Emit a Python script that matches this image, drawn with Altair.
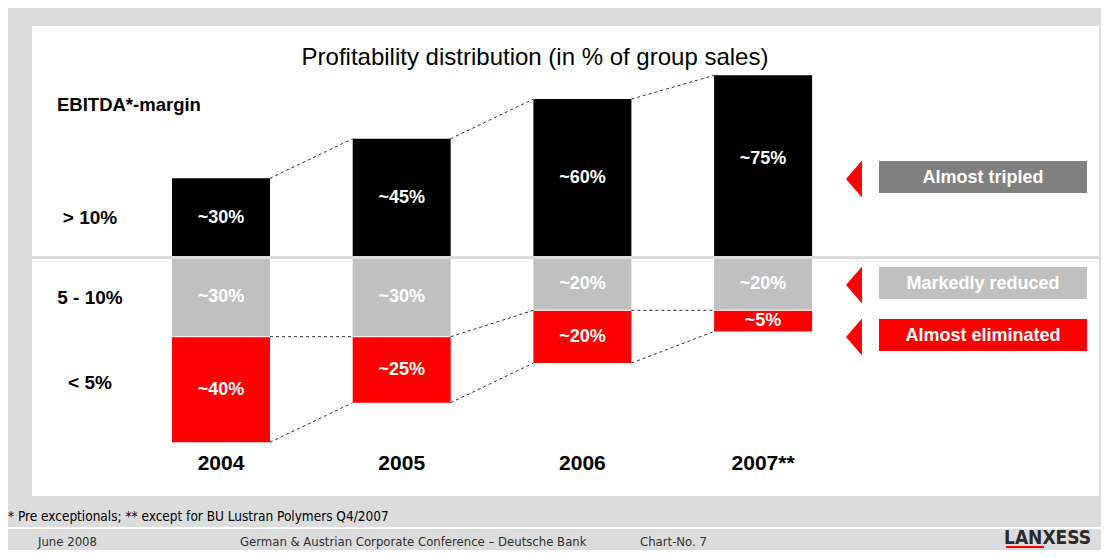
import altair as alt
import pandas as pd

# ---------------- data ----------------
years = ["2004", "2005", "2006", "2007"]
year_labels = ["2004", "2005", "2006", "2007**"]
high_share = [30, 45, 60, 69]      # > 10 % EBITDA margin (bar height as drawn)
mid_share = [30, 30, 20, 20]       # 5 - 10 %
low_share = [40, 25, 20, 8]        # < 5 %
high_text = ["~30%", "~45%", "~60%", "~75%"]
mid_text = ["~30%", "~30%", "~20%", "~20%"]
low_text = ["~40%", "~25%", "~20%", "~5%"]
band_names = ["> 10%", "5 - 10%", "< 5%"]
callouts = ["Almost tripled", "Markedly reduced", "Almost eliminated"]
title_text = "Profitability distribution (in % of group sales)"
axis_title = "EBITDA*-margin"
footnote = "* Pre exceptionals; ** except for BU Lustran Polymers Q4/2007"
footer_items = ["June 2008", "German & Austrian Corporate Conference \u2013 Deutsche Bank", "Chart-No. 7"]
logo = "LANXESS"

# ---------------- layout ----------------
W, H = 1093, 542
PX = 2.64          # pixels per percent
ZERO_Y = 249.5     # pixel row of the 0 line
STEP = 180.7       # pixels between bar centres
FIRST_X = 213.0    # pixel centre of first bar
HALF = 49.0 / STEP

ydom = [-(H - ZERO_Y) / PX, ZERO_Y / PX]
xdom = [-FIRST_X / STEP, (W - FIRST_X) / STEP]
xs = alt.Scale(domain=xdom, nice=False, zero=False)
ys = alt.Scale(domain=ydom, nice=False, zero=False)

SANS = "Arial, Liberation Sans, Helvetica, sans-serif"
NARROW = "Liberation Sans Narrow, Arial Narrow, DejaVu Sans Condensed, sans-serif"
BLACK, GREY, RED = "#000000", "#c0c0c0", "#ff0000"
BG = "#dcdcdc"


def num(t):
    return float(t.strip("~%"))


# bars
rows = []
for i in range(len(years)):
    h, m, l = high_share[i], mid_share[i], low_share[i]
    rows.append(dict(band="high", x0=i - HALF, x1=i + HALF, y0=0, y1=h))
    rows.append(dict(band="mid", x0=i - HALF, x1=i + HALF, y0=0, y1=-m))
    rows.append(dict(band="low", x0=i - HALF, x1=i + HALF, y0=-m, y1=-(m + l)))
bars_df = pd.DataFrame(rows)

# labels inside bars
lab = []
for i in range(len(years)):
    h, m, l = high_share[i], mid_share[i], low_share[i]
    lab.append(dict(x=i, y=max(h, num(high_text[i])) / 2, t=high_text[i]))
    lab.append(dict(x=i, y=-max(m, num(mid_text[i])) / 2, t=mid_text[i]))
    lab.append(dict(x=i, y=-(m + max(l, num(low_text[i])) / 2), t=low_text[i]))
lab_df = pd.DataFrame(lab)

# dashed connectors
con = []
for i in range(len(years) - 1):
    levels_a = [high_share[i], -mid_share[i], -(mid_share[i] + low_share[i])]
    levels_b = [high_share[i + 1], -mid_share[i + 1], -(mid_share[i + 1] + low_share[i + 1])]
    for a, b in zip(levels_a, levels_b):
        con.append(dict(xa=i + HALF, xb=i + 1 - HALF, ya=a, yb=b))
con_df = pd.DataFrame(con)

year_df = pd.DataFrame(dict(x=list(range(len(years))), t=year_labels))

one = pd.DataFrame({"t": [""]})


def txt(s, x, y, size, weight="normal", color="black", align="center", font=SANS, baseline="middle"):
    return alt.Chart(pd.DataFrame({"t": [s]})).mark_text(
        align=align, baseline=baseline, fontSize=size, fontWeight=weight, color=color, font=font
    ).encode(x=alt.value(x), y=alt.value(y), text="t:N")


def box(x0, x1, y0, y1, color):
    return alt.Chart(one).mark_rect(color=color).encode(
        x=alt.value(x0), x2=alt.value(x1), y=alt.value(y0), y2=alt.value(y1)
    )


layers = []
# white panel
layers.append(box(24, 1091, 18, 488, "white"))

# bars
layers.append(
    alt.Chart(bars_df).mark_rect().encode(
        x=alt.X("x0:Q", scale=xs, axis=None),
        x2="x1:Q",
        y=alt.Y("y0:Q", scale=ys, axis=None),
        y2="y1:Q",
        color=alt.Color("band:N", scale=alt.Scale(domain=["high", "mid", "low"], range=[BLACK, GREY, RED]), legend=None),
    )
)

# separator line at zero
layers.append(
    alt.Chart(pd.DataFrame({"z": [0]})).mark_rule(color=BG, strokeWidth=3).encode(
        y=alt.Y("z:Q", scale=ys, axis=None), x=alt.value(24), x2=alt.value(1091)
    )
)

# thin white line between grey and red
layers.append(
    alt.Chart(bars_df[bars_df.band == "low"]).mark_rule(color="white", strokeWidth=1).encode(
        x=alt.X("x0:Q", scale=xs, axis=None), x2="x1:Q", y=alt.Y("y0:Q", scale=ys, axis=None)
    )
)

# connectors
layers.append(
    alt.Chart(con_df).mark_rule(color="#303030", strokeWidth=1, strokeDash=[3, 3]).encode(
        x=alt.X("xa:Q", scale=xs, axis=None), x2="xb:Q",
        y=alt.Y("ya:Q", scale=ys, axis=None), y2="yb:Q",
    )
)

# bar labels
layers.append(
    alt.Chart(lab_df).mark_text(color="white", fontSize=18, fontWeight="bold", font=SANS).encode(
        x=alt.X("x:Q", scale=xs, axis=None), y=alt.Y("y:Q", scale=ys, axis=None), text="t:N"
    )
)

# year labels
layers.append(
    alt.Chart(year_df).mark_text(color="black", fontSize=21, fontWeight="bold", font=SANS).encode(
        x=alt.X("x:Q", scale=xs, axis=None), y=alt.value(456), text="t:N"
    )
)

# title and left labels
layers.append(txt(title_text, 527, 50, 24))
layers.append(txt(axis_title, 49, 97, 18.5, weight="bold", align="left"))
for name, yy in zip(band_names, [210, 290, 375]):
    layers.append(txt(name, 82, yy, 19, weight="bold"))

# callouts
tri = "M 0.43 -1 L -0.43 0 L 0.43 1 Z"
for label, col, (y0, y1) in zip(callouts, ["#808080", GREY, RED], [(153, 185), (259, 291), (311, 343)]):
    layers.append(box(871, 1079, y0, y1, col))
    layers.append(txt(label, 975, (y0 + y1) / 2 + 1, 18, weight="bold", color="white"))
    layers.append(
        alt.Chart(one).mark_point(shape=tri, filled=True, size=1369, color=RED, opacity=1, strokeWidth=0).encode(
            x=alt.value(846), y=alt.value((y0 + y1) / 2 + 2)
        )
    )

# footer
layers.append(txt(footnote, 0, 509, 13.5, align="left", font=NARROW))
layers.append(
    alt.Chart(one).mark_rule(color="white", strokeWidth=2).encode(
        x=alt.value(0), x2=alt.value(W), y=alt.value(520)
    )
)
for item, xx in zip(footer_items, [30, 232, 632]):
    layers.append(txt(item, xx, 534, 13, align="left", font=NARROW, color="#303030"))
layers.append(txt(logo, 996, 536, 19, weight="bold", align="left", font=NARROW, color="#2a2a2a", baseline="alphabetic"))
layers.append(
    alt.Chart(one).mark_rule(color=RED, strokeWidth=2).encode(
        x=alt.value(998), x2=alt.value(1036), y=alt.value(539)
    )
)

chart = alt.layer(*layers).properties(
    width=W, height=H,
    autosize=alt.AutoSizeParams(type="none"),
    padding=0,
    background=BG,
).configure_view(stroke=None)

chart.save("out.html", embed_options={"renderer": "svg", "actions": False})
